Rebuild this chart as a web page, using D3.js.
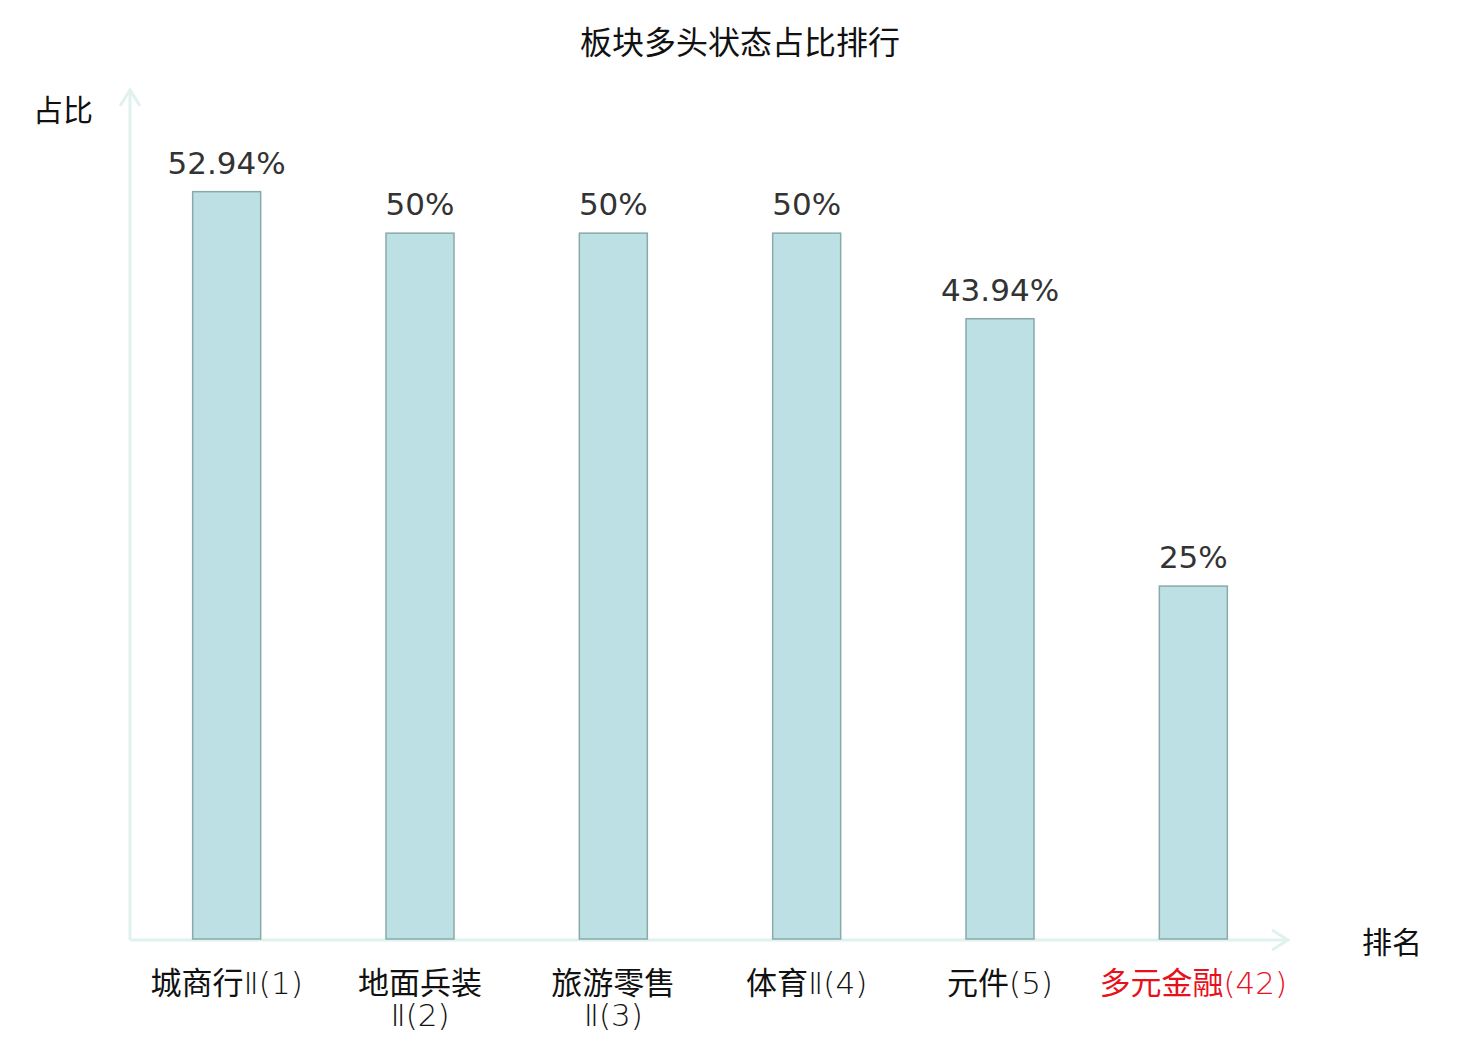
<!doctype html>
<html lang="zh">
<head>
<meta charset="utf-8">
<title>板块多头状态占比排行</title>
<script src="https://cdn.jsdelivr.net/npm/d3@7"></script>
<style>
  body { margin: 0; background: #fff; }
  text { font-family: "DejaVu Sans", "Noto Sans CJK SC", sans-serif; }
</style>
</head>
<body>
<svg id="chart" width="1480" height="1040"></svg>
<script>
// data
const categories = ["城商行Ⅱ(1)", "地面兵装\nⅡ(2)", "旅游零售\nⅡ(3)", "体育Ⅱ(4)", "元件(5)", "多元金融(42)"];
const values = [52.94, 50, 50, 50, 43.94, 25];
const valueLabels = ["52.94%", "50%", "50%", "50%", "43.94%", "25%"];
const highlight = [false, false, false, false, false, true];

const svg = d3.select("#chart");
const cjk = "'Noto Sans CJK SC', 'DejaVu Sans', sans-serif";
const thin = "'DejaVu Sans ExtraLight', 'DejaVu Sans', sans-serif";
const axisColor = "#dff2ef";

const x0 = 130, x1 = 1290, yBase = 939;
const x = d3.scaleBand().domain(d3.range(categories.length)).range([x0, x1]).padding(0);
const y = d3.scaleLinear().domain([0, 60]).range([yBase, 92]);
const barW = 68;

// title
svg.append("text")
  .attr("x", 740).attr("y", 54)
  .attr("text-anchor", "middle")
  .style("font-family", cjk).style("font-size", "32px").style("fill", "#111")
  .text("板块多头状态占比排行");

// axes (with arrows)
svg.append("line").attr("x1", x0).attr("y1", yBase + 1).attr("x2", x0).attr("y2", 90)
  .attr("stroke", axisColor).attr("stroke-width", 3);
svg.append("path").attr("d", `M${x0 - 10},${106} L${x0},${90} L${x0 + 10},${106}`)
  .attr("fill", "none").attr("stroke", axisColor).attr("stroke-width", 3);
svg.append("line").attr("x1", x0).attr("y1", yBase + 1).attr("x2", 1288).attr("y2", yBase + 1)
  .attr("stroke", axisColor).attr("stroke-width", 3);
svg.append("path").attr("d", `M${1272},${yBase - 9} L${1288},${yBase + 1} L${1272},${yBase + 11}`)
  .attr("fill", "none").attr("stroke", axisColor).attr("stroke-width", 3);

svg.append("text").attr("x", 63).attr("y", 121).attr("text-anchor", "middle")
  .style("font-family", cjk).style("font-size", "30px").style("fill", "#111").text("占比");
svg.append("text").attr("x", 1392).attr("y", 953).attr("text-anchor", "middle")
  .style("font-family", cjk).style("font-size", "30px").style("fill", "#111").text("排名");

// bars
const cx = i => x(i) + x.bandwidth() / 2;
svg.selectAll("rect.bar").data(values).enter().append("rect")
  .attr("class", "bar")
  .attr("x", (d, i) => cx(i) - barW / 2)
  .attr("y", d => y(d))
  .attr("width", barW)
  .attr("height", d => yBase - y(d))
  .attr("fill", "#bce0e3")
  .attr("stroke", "#8aa9a9")
  .attr("stroke-width", 1.5);

// value labels
svg.selectAll("text.val").data(values).enter().append("text")
  .attr("class", "val")
  .attr("x", (d, i) => cx(i))
  .attr("y", d => y(d) - 18)
  .attr("text-anchor", "middle")
  .style("font-family", "'DejaVu Sans', sans-serif")
  .style("font-size", "31px").style("fill", "#333")
  .text((d, i) => valueLabels[i]);

// category labels: CJK part regular, the rest thin
const cat = svg.selectAll("text.cat").data(categories).enter().append("text")
  .attr("class", "cat")
  .attr("text-anchor", "middle")
  .style("font-size", "31px")
  .style("fill", (d, i) => highlight[i] ? "#e8101a" : "#111");
cat.each(function(d, i) {
  const t = d3.select(this);
  d.split("\n").forEach((line, k) => {
    const m = line.match(/^([\u4e00-\u9fff]*)(.*)$/);
    const first = t.append("tspan").attr("x", cx(i)).attr("y", 994 + k * 32);
    if (m[1]) {
      first.style("font-family", cjk).text(m[1]);
      if (m[2]) t.append("tspan").style("font-family", thin).style("font-weight", 200).text(m[2]);
    } else {
      first.style("font-family", thin).style("font-weight", 200).text(m[2]);
    }
  });
});
</script>
</body>
</html>
